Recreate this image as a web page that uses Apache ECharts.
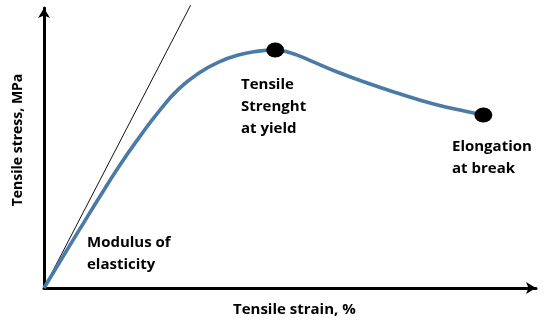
<!DOCTYPE html>
<html><head><meta charset="utf-8">
<script src="https://cdn.jsdelivr.net/npm/echarts@6/dist/echarts.min.js"></script>
<style>html,body{margin:0;padding:0;background:#fff}#c{width:550px;height:335px}</style>
</head><body><div id="c"></div>
<script>
// strain (%), stress (MPa) in relative units
var curveStrain = [0, 3.2, 7.3, 11.3, 15.3, 19.4, 23.4, 27.4, 31.5, 35.5, 39.5, 43.6, 47.0, 50.2, 54.0, 59.1, 65.7, 72.4, 79.2, 85.9, 89.3];
var curveStress = [0, 9.3, 21.1, 32.5, 43.6, 53.9, 63.2, 71.1, 76.8, 80.7, 83.2, 84.6, 85.0, 83.9, 81.3, 77.5, 73.2, 69.3, 65.7, 63.0, 61.8];
var modulusStrain = [0, 29.8];
var modulusStress = [0, 101];
var pointStrain = [47.0, 89.3];
var pointStress = [85.0, 61.8];
var xTitle = 'Tensile strain, %';
var yTitle = 'Tensile stress, MPa';

var font = '"Open Sans", sans-serif';
function zip(a, b) { return a.map(function (v, i) { return [v, b[i]]; }); }

var chart = echarts.init(document.getElementById('c'));
chart.setOption({
  animation: false,
  grid: { left: 44, right: 14, top: 8, bottom: 47 },
  xAxis: {
    type: 'value', min: 0, max: 100,
    axisLine: { show: true, lineStyle: { color: '#000', width: 3 }, symbol: ['none', 'arrow'], symbolSize: [9, 10] },
    axisTick: { show: false }, axisLabel: { show: false }, splitLine: { show: false }
  },
  yAxis: {
    type: 'value', min: 0, max: 100,
    axisLine: { show: true, lineStyle: { color: '#000', width: 3 }, symbol: ['none', 'arrow'], symbolSize: [9, 10] },
    axisTick: { show: false }, axisLabel: { show: false }, splitLine: { show: false }
  },
  series: [
    { type: 'line', data: zip(modulusStrain, modulusStress), clip: false, showSymbol: false,
      lineStyle: { color: '#111', width: 1 }, z: 2 },
    { type: 'line', data: zip(curveStrain, curveStress), smooth: 0.5, showSymbol: false,
      lineStyle: { color: '#4a7aa6', width: 3.6 }, z: 3 },
    { type: 'scatter', data: zip(pointStrain, pointStress), symbol: 'circle', symbolSize: [18, 15],
      itemStyle: { color: '#000', opacity: 1 }, z: 4 }
  ],
  graphic: [
    { type: 'text', left: 241, top: 74, style: { text: 'Tensile\nStrenght\nat yield', font: 'bold 15px ' + font, lineHeight: 22, fill: '#000' } },
    { type: 'text', left: 452, top: 136, style: { text: 'Elongation\nat break', font: 'bold 15px ' + font, lineHeight: 22, fill: '#000' } },
    { type: 'text', left: 87, top: 232, style: { text: 'Modulus of\nelasticity', font: 'bold 15px ' + font, lineHeight: 22, fill: '#000' } },
    { type: 'text', left: 233, top: 302, style: { text: xTitle, font: 'bold 15px ' + font, fill: '#000' } },
    { type: 'text', x: 18, y: 140, rotation: Math.PI / 2, style: { text: yTitle, font: 'bold 14px ' + font, fill: '#000', align: 'center', verticalAlign: 'middle' } }
  ]
});
</script></body></html>
